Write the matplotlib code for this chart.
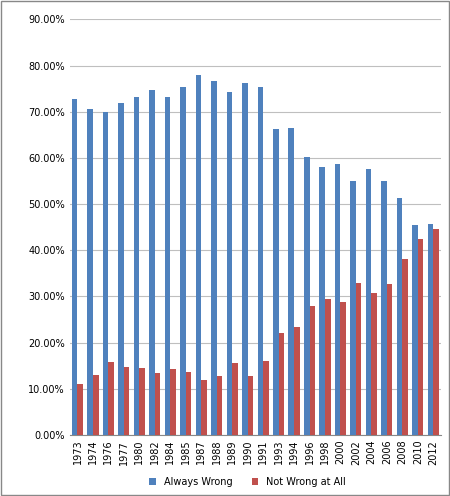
import matplotlib
matplotlib.use("Agg")
import matplotlib.pyplot as plt
import numpy as np
from matplotlib.ticker import FuncFormatter

years = ["1973", "1974", "1976", "1977", "1980", "1982", "1984", "1985", "1987", "1988",
         "1989", "1990", "1991", "1993", "1994", "1996", "1998", "2000", "2002", "2004",
         "2006", "2008", "2010", "2012"]
always_wrong = [72.7, 70.5, 70.0, 71.8, 73.2, 74.7, 73.2, 75.3, 78.0, 76.7,
                74.2, 76.3, 75.4, 66.3, 66.5, 60.3, 58.0, 58.7, 54.9, 57.5,
                55.0, 51.4, 45.4, 45.6]
not_wrong = [11.0, 13.0, 15.8, 14.8, 14.5, 13.4, 14.2, 13.6, 11.8, 12.7,
             15.6, 12.7, 16.0, 22.0, 23.3, 28.0, 29.4, 28.8, 33.0, 30.7,
             32.7, 38.0, 42.4, 44.5]

fig = plt.figure(figsize=(4.5, 4.96), dpi=100)
fig.patches.append(plt.Rectangle((0.002, 0.002), 0.996, 0.996, transform=fig.transFigure,
                                 fill=False, edgecolor="#888888", lw=1))
ax = fig.add_axes([0.155, 0.123, 0.825, 0.838])
x = np.arange(len(years))
w = 0.36
ax.bar(x - w / 2, always_wrong, w, color="#4F81BD", label="Always Wrong", zorder=3)
ax.bar(x + w / 2, not_wrong, w, color="#C0504D", label="Not Wrong at All", zorder=3)

ax.set_ylim(0, 90)
ax.set_yticks(np.arange(0, 91, 10))
ax.yaxis.set_major_formatter(FuncFormatter(lambda v, p: f"{v:.2f}%"))
ax.set_xlim(-0.5, len(years) - 0.5)
ax.set_xticks(x)
ax.set_xticklabels(years, rotation=90)
ax.tick_params(labelsize=7, length=0)
ax.grid(axis="y", color="#BFBFBF", lw=0.8, zorder=0)
for s in ["top", "right", "left"]:
    ax.spines[s].set_visible(False)
ax.spines["bottom"].set_color("#888888")

fig.legend(loc="lower center", ncol=2, fontsize=7, frameon=False,
           bbox_to_anchor=(0.55, 0.0), handlelength=0.7, handleheight=0.7)
fig.savefig("out.png", dpi=100)
